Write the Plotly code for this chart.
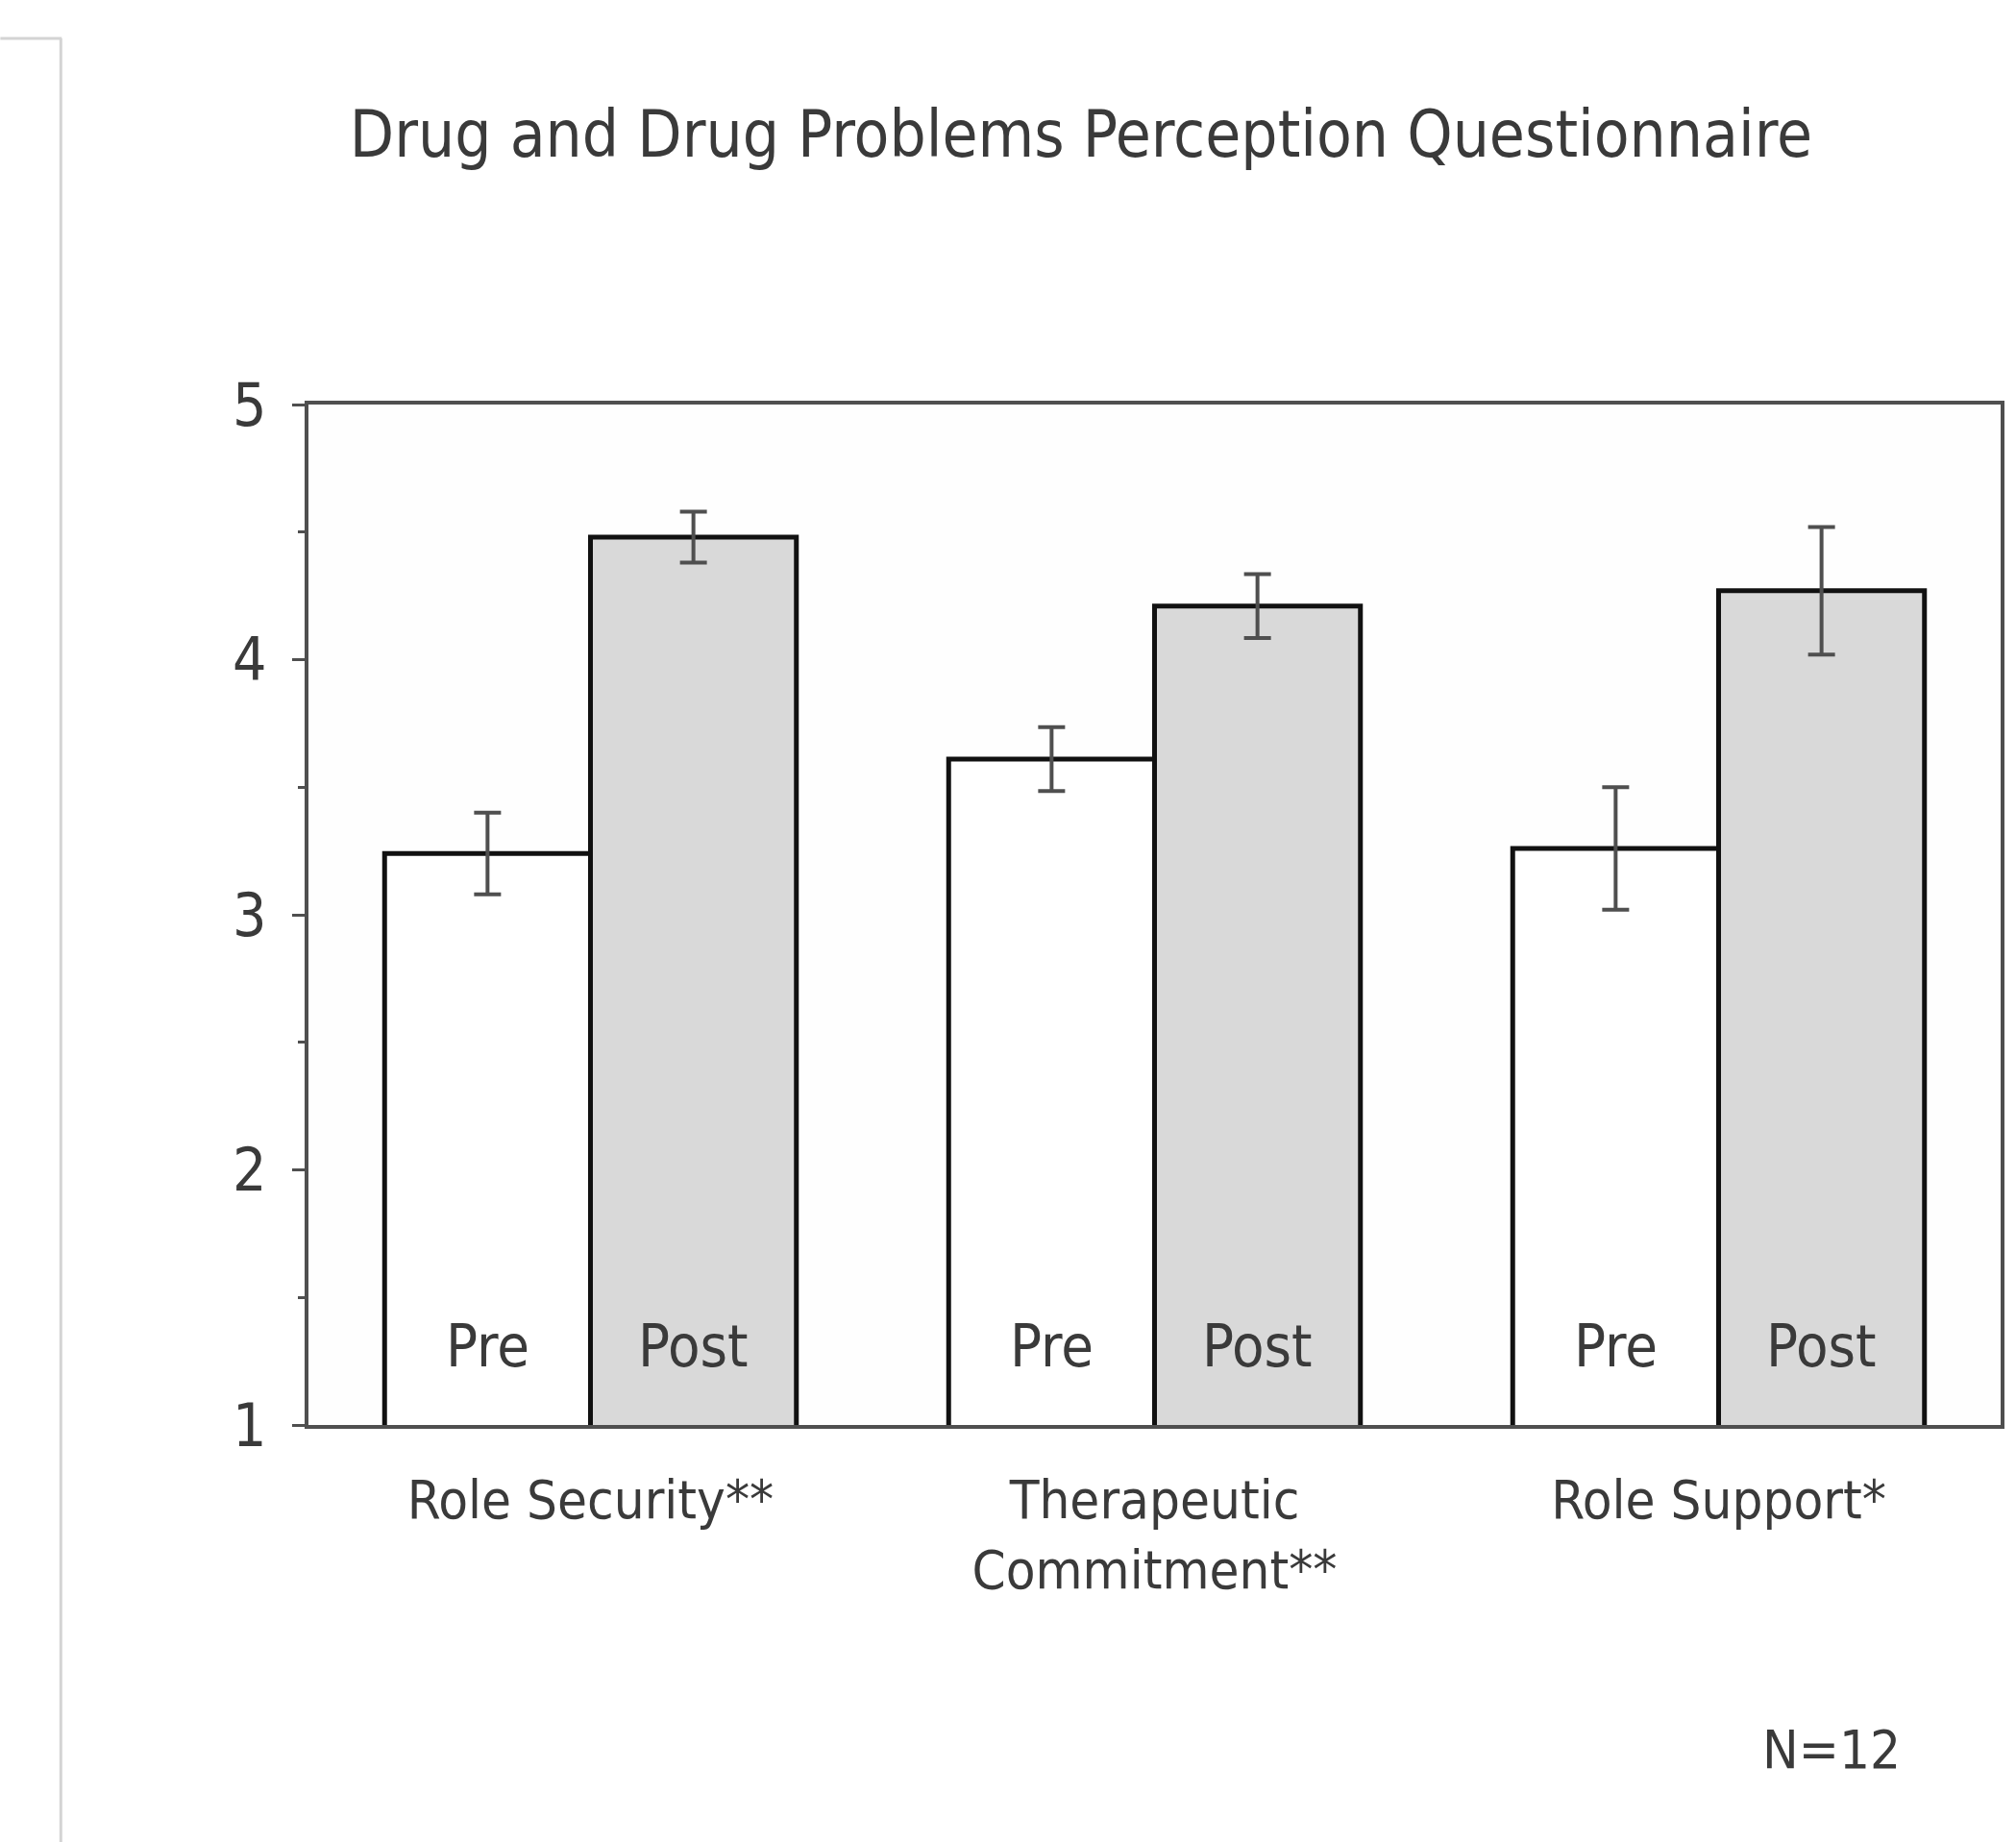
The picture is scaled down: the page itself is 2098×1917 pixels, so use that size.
import plotly.graph_objects as go

# Scale scores (1-5) before and after, mean with standard error
categories = ["Role Security**", "Therapeutic<br>Commitment**", "Role Support*"]
pre_means = [3.24, 3.61, 3.26]
pre_errors = [0.16, 0.125, 0.24]
post_means = [4.48, 4.21, 4.27]
post_errors = [0.10, 0.125, 0.25]
series_names = ["Pre", "Post"]
y_ticks = [1, 2, 3, 4, 5]
sample_note = "N=12"
title_text = "Drug and Drug Problems Perception Questionnaire"

FONT = "Liberation Sans Narrow, Arial Narrow, DejaVu Sans Condensed, Liberation Sans, Arial, sans-serif"
TEXT = "#3a3a3a"
AXIS = "#4f4f4f"

W, H = 2098, 1917
ML, MR, MT, MB = 321, 14, 421, 434
BARGAP = 0.27
half = (1 - BARGAP) / 4  # offset of each bar centre from the group centre

groups = list(range(len(categories)))
plot_w = W - ML - MR
plot_h = H - MT - MB


def px_x(p):
    """Page pixel column -> paper fraction of the plot area."""
    return (p - ML) / plot_w


def px_y(p):
    """Page pixel row -> paper fraction of the plot area."""
    return 1 - (p - MT) / plot_h


fig = go.Figure()
fig.add_trace(go.Bar(
    x=groups, y=pre_means, name=series_names[0],
    marker=dict(color="white", line=dict(color="#111111", width=5)),
    error_y=dict(type="data", array=pre_errors, color=AXIS, thickness=4, width=14),
))
fig.add_trace(go.Bar(
    x=groups, y=post_means, name=series_names[1],
    marker=dict(color="#d9d9d9", line=dict(color="#111111", width=5)),
    error_y=dict(type="data", array=post_errors, color=AXIS, thickness=4, width=14),
))

# "Pre" / "Post" labels near the foot of each bar
for g in groups:
    for k, name in enumerate(series_names):
        fig.add_annotation(
            x=g + (2 * k - 1) * half, y=1.31, xref="x", yref="y",
            text=name, showarrow=False, xanchor="center", yanchor="middle",
            font=dict(family=FONT, size=61, color=TEXT),
        )

fig.add_annotation(
    x=px_x(1908), y=px_y(1820), xref="paper", yref="paper",
    text=sample_note, showarrow=False, xanchor="center", yanchor="middle",
    font=dict(family=FONT, size=56, color=TEXT),
)

# faint page edge on the left
fig.add_shape(type="line", xref="paper", yref="paper",
              x0=px_x(63), x1=px_x(63), y0=px_y(40), y1=px_y(H + 5),
              line=dict(color="#d4d4d4", width=3))
fig.add_shape(type="line", xref="paper", yref="paper",
              x0=px_x(0), x1=px_x(64), y0=px_y(40), y1=px_y(40),
              line=dict(color="#d4d4d4", width=3))

fig.update_layout(
    width=W, height=H,
    margin=dict(l=ML, r=MR, t=MT, b=MB),
    paper_bgcolor="white", plot_bgcolor="#fefefe",
    barmode="group", bargap=BARGAP, bargroupgap=0,
    showlegend=False,
    title=dict(text=title_text, x=1125 / W, xanchor="center", xref="container",
               y=1 - 140 / H, yanchor="middle", yref="container",
               font=dict(family=FONT, size=67, color=TEXT)),
    font=dict(family=FONT, color=TEXT),
)
fig.update_xaxes(
    range=[-0.5, 2.5], tickvals=groups, ticktext=categories,
    showgrid=False, zeroline=False,
    showline=True, linecolor=AXIS, linewidth=4, mirror=True,
    ticks="", tickfont=dict(family=FONT, size=56, color=TEXT),
    ticklabelstandoff=26,
)
fig.update_yaxes(
    range=[1, 5], tickvals=y_ticks, showgrid=False, zeroline=False,
    showline=True, linecolor=AXIS, linewidth=4, mirror=True,
    ticks="outside", ticklen=13, tickwidth=3, tickcolor=AXIS,
    minor=dict(dtick=0.5, ticks="outside", ticklen=7, tickwidth=3, tickcolor=AXIS),
    tickfont=dict(family=FONT, size=62, color=TEXT),
    ticklabelstandoff=14,
)

fig.write_html("out.html")
